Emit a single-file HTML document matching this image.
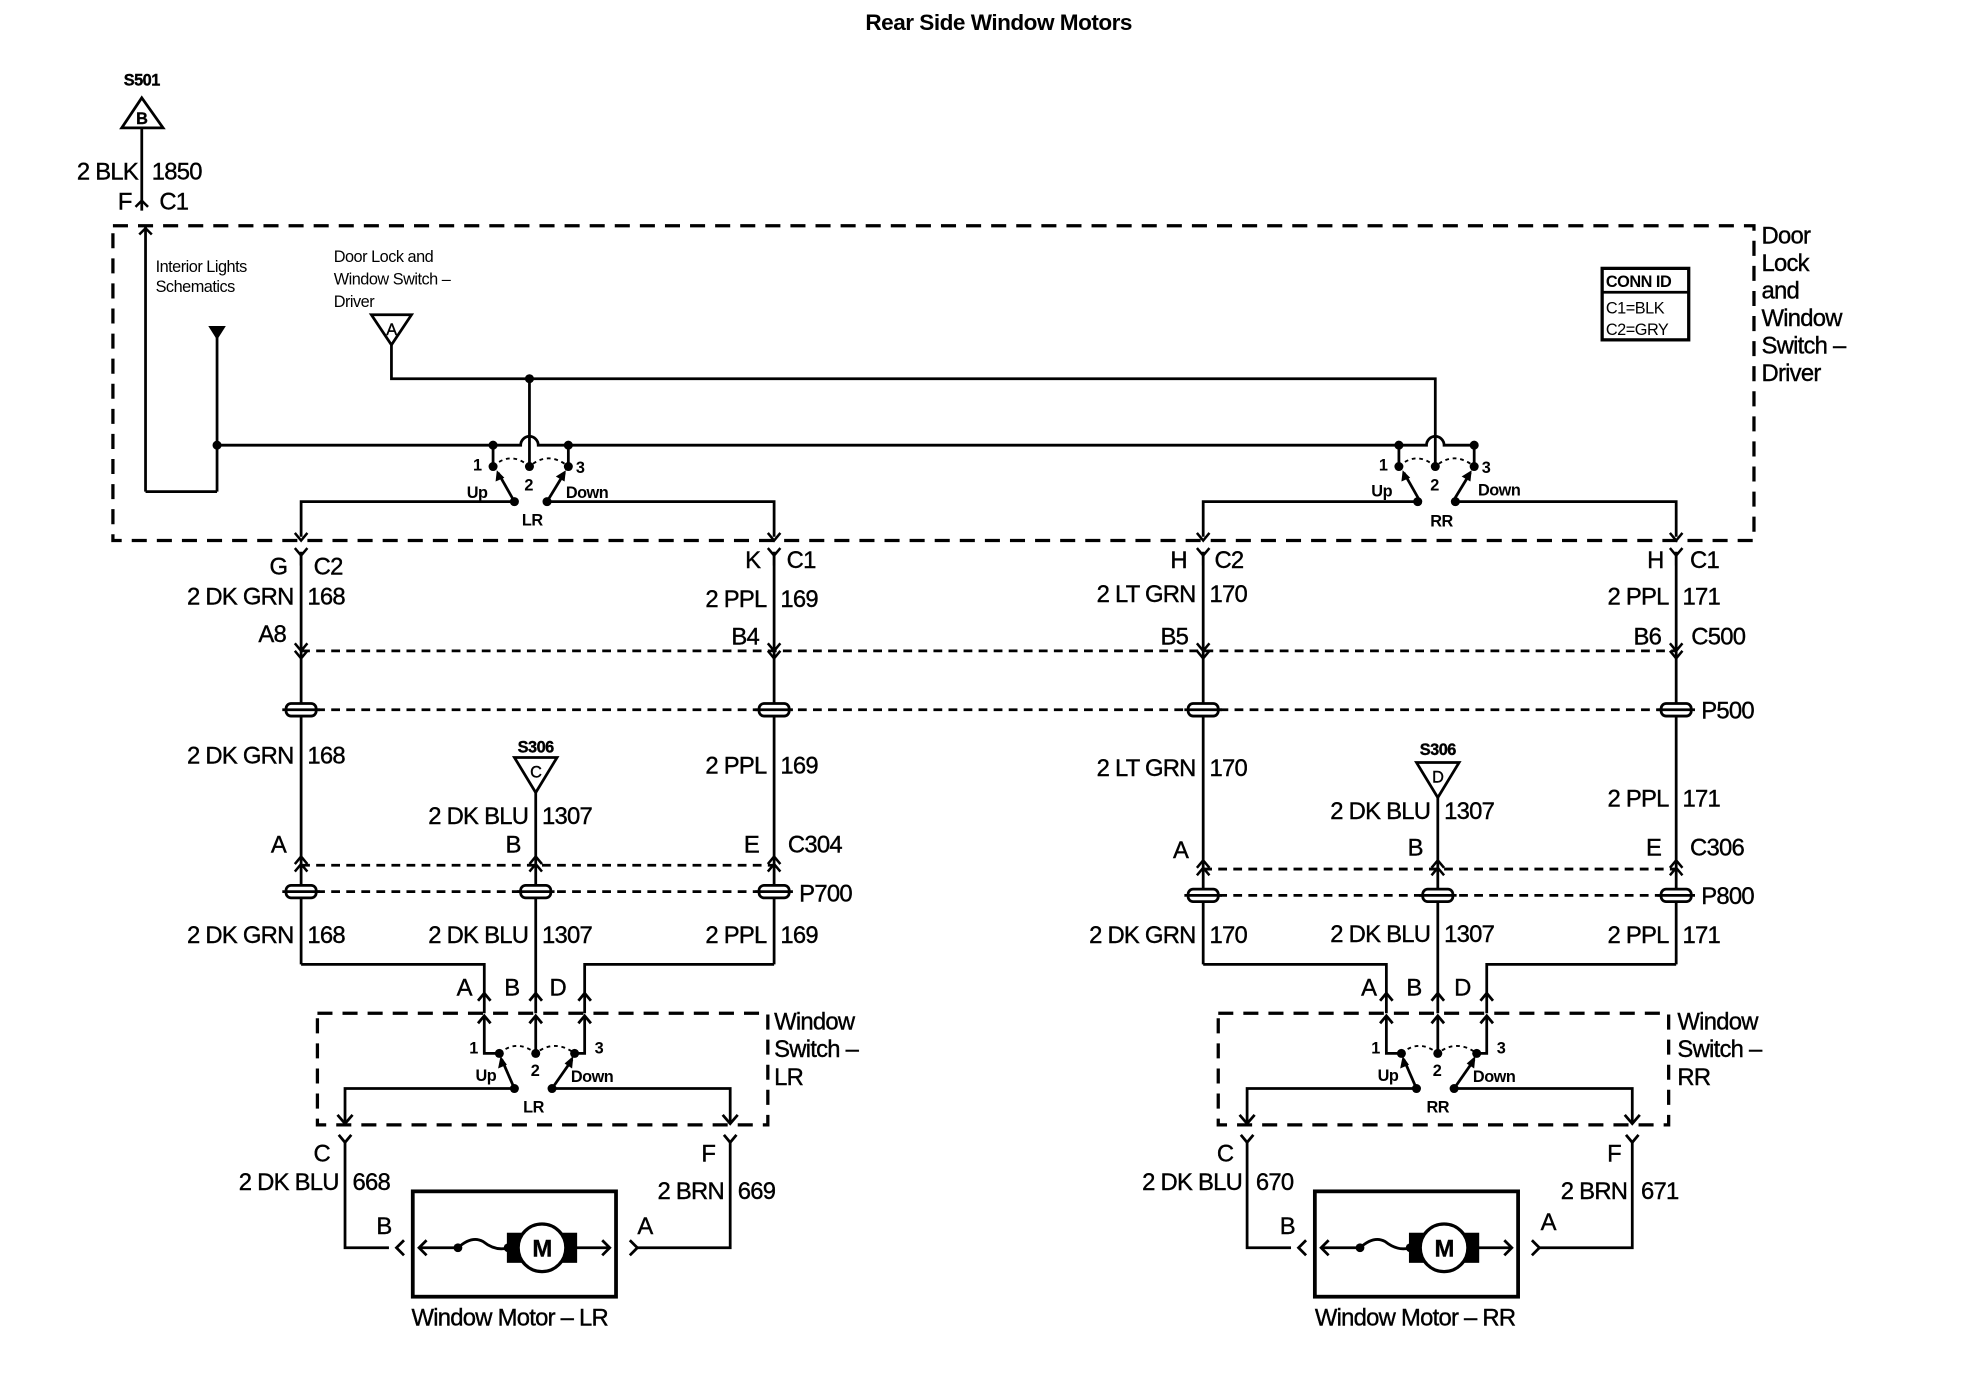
<!DOCTYPE html>
<html><head><meta charset="utf-8">
<style>
html,body{margin:0;padding:0;background:#fff;}
svg{display:block;}
text{font-family:"Liberation Sans",Arial,sans-serif;fill:#000;}
.b{font-size:19px;letter-spacing:-0.6px;stroke:#000;stroke-width:0.3px;}
.s{font-size:13px;letter-spacing:-0.4px;}
.t{font-size:15px;font-weight:bold;letter-spacing:-0.4px;}
</style></head>
<body>
<svg width="1966" height="1392" viewBox="0 0 1567 1110" preserveAspectRatio="none" xmlns="http://www.w3.org/2000/svg">
<defs>
  <g id="ydn"><polyline points="-5,-5 0,1 5,-5" fill="none" stroke="#000" stroke-width="2"/></g>
  <g id="yup"><polyline points="-5,5 0,-1 5,5" fill="none" stroke="#000" stroke-width="2"/></g>
  <g id="fork"><polyline points="-5,-6 0,0 5,-6" fill="none" stroke="#000" stroke-width="2"/><line x1="0" y1="0" x2="0" y2="8" stroke="#000" stroke-width="2"/></g>
  <g id="pack"><rect x="-12" y="-5" width="24" height="10" rx="4" fill="#fff" stroke="#000" stroke-width="2.2"/><path d="M-15,0 L15,0" stroke="#000" stroke-width="2.2" fill="none"/></g>
  <g id="tsw" stroke="#000" stroke-width="2.2" fill="none">
    <line x1="-29" y1="0" x2="-29" y2="17"/>
    <line x1="31" y1="0" x2="31" y2="17"/>
    <path d="M-29,17 Q-15,4 0,17 Q15,4 31,17" stroke-dasharray="3,3" stroke-width="1.5"/>
    <line x1="-12" y1="45" x2="-25" y2="22"/>
    <line x1="14" y1="45" x2="28" y2="22"/>
    <polygon points="-26,20 -27,29 -20,26" fill="#000" stroke="none"/>
    <polygon points="29,20 21,25 28,29" fill="#000" stroke="none"/>
  </g>
</defs>

<text x="796" y="24" class="t" text-anchor="middle" style="font-size:18px">Rear Side Window Motors</text>

<g stroke="#000" stroke-width="2.2" fill="none">
  <rect x="90" y="180" width="1308" height="251" stroke-dasharray="12,8" stroke-width="2.6"/>
  <polygon points="113,78 97,102 130,102"/>
  <line x1="113" y1="102" x2="113" y2="168"/>
  <line x1="116" y1="180" x2="116" y2="392"/>
  <line x1="116" y1="392" x2="173" y2="392"/>
  <line x1="173" y1="392" x2="173" y2="265"/>
  <path d="M173,355 L415,355 A7,7 0 0 1 429,355 L1137,355 A7,7 0 0 1 1151,355 L1174,355"/>
  <polygon points="296,251 328,251 312,275"/>
  <path d="M312,275 L312,302 L1144,302 L1144,372"/>
  <line x1="422" y1="302" x2="422" y2="372"/>
  <path d="M410,400 L240,400 L240,428"/>
  <path d="M436,400 L617,400 L617,428"/>
  <path d="M1130,400 L959,400 L959,428"/>
  <path d="M1160,400 L1336,400 L1336,428"/>
  <rect x="1277" y="214" width="69" height="57" stroke-width="2.6"/>
  <line x1="1277" y1="233" x2="1346" y2="233"/>
  <line x1="240" y1="440" x2="240" y2="769"/>
  <line x1="617" y1="440" x2="617" y2="769"/>
  <line x1="959" y1="440" x2="959" y2="769"/>
  <line x1="1336" y1="440" x2="1336" y2="769"/>
  <line x1="427" y1="632" x2="427" y2="808"/>
  <line x1="1146" y1="636" x2="1146" y2="808"/>
  <polygon points="410,604 444,604 427,632"/>
  <polygon points="1129,608 1163,608 1146,636"/>
  <line x1="240" y1="519" x2="1336" y2="519" stroke-dasharray="7,5"/>
  <line x1="240" y1="566" x2="1336" y2="566" stroke-dasharray="7,5"/>
  <line x1="240" y1="690" x2="617" y2="690" stroke-dasharray="7,5"/>
  <line x1="240" y1="711" x2="617" y2="711" stroke-dasharray="7,5"/>
  <line x1="959" y1="693" x2="1336" y2="693" stroke-dasharray="7,5"/>
  <line x1="959" y1="714" x2="1336" y2="714" stroke-dasharray="7,5"/>
  <path d="M240,769 L386,769 L386,808"/>
  <path d="M617,769 L466,769 L466,808"/>
  <path d="M959,769 L1105,769 L1105,808"/>
  <path d="M1336,769 L1185,769 L1185,808"/>
  <rect x="253" y="808" width="359" height="89" stroke-dasharray="12,8" stroke-width="2.6"/>
  <rect x="971" y="808" width="359" height="89" stroke-dasharray="12,8" stroke-width="2.6"/>
</g>

<g id="lsw" stroke="#000" stroke-width="2.2" fill="none">
  <path d="M386,810 L386,840 L398,840"/>
  <line x1="427" y1="810" x2="427" y2="840"/>
  <path d="M466,810 L466,840 L458,840"/>
  <polyline points="381,816 386,810 391,816"/>
  <polyline points="422,816 427,810 432,816"/>
  <polyline points="461,816 466,810 471,816"/>
  <polyline points="381,798 386,792 391,798"/>
  <polyline points="422,798 427,792 432,798"/>
  <polyline points="461,798 466,792 471,798"/>
  <path d="M398,840 Q412,828 427,840 Q442,828 458,840" stroke-dasharray="3,3" stroke-width="1.5"/>
  <line x1="410" y1="868" x2="400" y2="845"/>
  <line x1="440" y1="868" x2="456" y2="845"/>
  <polygon points="399,842 397,852 404,849" fill="#000" stroke="none"/>
  <polygon points="457,842 450,848 456,852" fill="#000" stroke="none"/>
  <path d="M410,868 L275,868 L275,895"/>
  <path d="M440,868 L582,868 L582,895"/>
  <polyline points="269,889 275,896 281,889"/>
  <polyline points="576,889 582,896 588,889"/>
  <circle cx="398" cy="840" r="3.6" fill="#000" stroke="none"/>
  <circle cx="427" cy="840" r="3.6" fill="#000" stroke="none"/>
  <circle cx="458" cy="840" r="3.6" fill="#000" stroke="none"/>
  <circle cx="410" cy="868" r="3.6" fill="#000" stroke="none"/>
  <circle cx="440" cy="868" r="3.6" fill="#000" stroke="none"/>
  <polyline points="270,905 275,911 280,905"/>
  <path d="M275,911 L275,995 L310,995"/>
  <polyline points="577,905 582,911 587,905"/>
  <path d="M582,911 L582,995 L508,995"/>
  <polyline points="322,989 316,995 322,1001"/>
  <polyline points="502,989 508,995 502,1001"/>
  <rect x="329" y="950" width="162" height="84" stroke-width="3"/>
  <path d="M334,995 L365,995 Q376,985 385,990 Q395,998 405,995 L412,995"/>
  <polyline points="340,989 334,995 340,1001"/>
  <line x1="457" y1="995" x2="486" y2="995"/>
  <polyline points="480,989 486,995 480,1001"/>
  <circle cx="365" cy="995" r="3.5" fill="#000" stroke="none"/>
  <circle cx="405" cy="995" r="3.5" fill="#000" stroke="none"/>
  <rect x="404" y="983" width="56" height="24" fill="#000" stroke="none"/>
  <circle cx="432" cy="995" r="19" fill="#fff" stroke-width="2.6"/>
</g>
<text x="432" y="1002" class="b" text-anchor="middle" font-weight="bold">M</text>
<use href="#lsw" transform="translate(719,0)"/>
<text x="1151" y="1002" class="b" text-anchor="middle" font-weight="bold">M</text>

<use href="#tsw" transform="translate(422,355)"/>
<use href="#tsw" transform="translate(1144,355)"/>
<g fill="#000">
  <circle cx="173" cy="355" r="3.6"/><circle cx="422" cy="302" r="3.6"/>
  <circle cx="393" cy="355" r="3.6"/><circle cx="453" cy="355" r="3.6"/>
  <circle cx="393" cy="372" r="3.6"/><circle cx="422" cy="372" r="3.6"/><circle cx="453" cy="372" r="3.6"/>
  <circle cx="410" cy="400" r="3.6"/><circle cx="436" cy="400" r="3.6"/>
  <circle cx="1115" cy="355" r="3.6"/><circle cx="1175" cy="355" r="3.6"/>
  <circle cx="1115" cy="372" r="3.6"/><circle cx="1144" cy="372" r="3.6"/><circle cx="1175" cy="372" r="3.6"/>
  <circle cx="1130" cy="400" r="3.6"/><circle cx="1160" cy="400" r="3.6"/>
  <polygon points="166,260 180,260 173,271"/>
</g>

<g stroke="#000" stroke-width="2" fill="none">
  <polyline points="108,165 113,160 118,165"/>
  <polyline points="111,187 116,182 121,187"/>
</g>
<g>
  <use href="#ydn" transform="translate(240,430)"/><use href="#fork" transform="translate(240,443)"/>
  <use href="#ydn" transform="translate(617,430)"/><use href="#fork" transform="translate(617,443)"/>
  <use href="#ydn" transform="translate(959,430)"/><use href="#fork" transform="translate(959,443)"/>
  <use href="#ydn" transform="translate(1336,430)"/><use href="#fork" transform="translate(1336,443)"/>
  <use href="#ydn" transform="translate(240,518)"/><use href="#ydn" transform="translate(240,524)"/>
  <use href="#ydn" transform="translate(617,518)"/><use href="#ydn" transform="translate(617,524)"/>
  <use href="#ydn" transform="translate(959,518)"/><use href="#ydn" transform="translate(959,524)"/>
  <use href="#ydn" transform="translate(1336,518)"/><use href="#ydn" transform="translate(1336,524)"/>
  <use href="#pack" transform="translate(240,566)"/><use href="#pack" transform="translate(617,566)"/>
  <use href="#pack" transform="translate(959,566)"/><use href="#pack" transform="translate(1336,566)"/>
  <use href="#yup" transform="translate(240,684)"/><use href="#yup" transform="translate(240,690)"/>
  <use href="#yup" transform="translate(427,684)"/><use href="#yup" transform="translate(427,690)"/>
  <use href="#yup" transform="translate(617,684)"/><use href="#yup" transform="translate(617,690)"/>
  <use href="#yup" transform="translate(959,687)"/><use href="#yup" transform="translate(959,693)"/>
  <use href="#yup" transform="translate(1146,687)"/><use href="#yup" transform="translate(1146,693)"/>
  <use href="#yup" transform="translate(1336,687)"/><use href="#yup" transform="translate(1336,693)"/>
  <use href="#pack" transform="translate(240,711)"/><use href="#pack" transform="translate(427,711)"/><use href="#pack" transform="translate(617,711)"/>
  <use href="#pack" transform="translate(959,714)"/><use href="#pack" transform="translate(1146,714)"/><use href="#pack" transform="translate(1336,714)"/>
</g>

<g class="b">
  <text x="113" y="68" class="s" text-anchor="middle" font-weight="bold">S501</text>
  <text x="113" y="99" class="s" text-anchor="middle" font-weight="bold">B</text>
  <text x="312" y="267" class="s" text-anchor="middle">A</text>
  <text x="427" y="600" class="s" text-anchor="middle" font-weight="bold">S306</text>
  <text x="427" y="620" class="s" text-anchor="middle">C</text>
  <text x="1146" y="602" class="s" text-anchor="middle" font-weight="bold">S306</text>
  <text x="1146" y="624" class="s" text-anchor="middle">D</text>

  <text x="110" y="143" text-anchor="end">2 BLK</text><text x="121" y="143">1850</text>
  <text x="105" y="167" text-anchor="end">F</text><text x="127" y="167">C1</text>

  <text x="229" y="458" text-anchor="end">G</text><text x="250" y="458">C2</text>
  <text x="606" y="453" text-anchor="end">K</text><text x="627" y="453">C1</text>
  <text x="946" y="453" text-anchor="end">H</text><text x="968" y="453">C2</text>
  <text x="1326" y="453" text-anchor="end">H</text><text x="1347" y="453">C1</text>

  <text x="234" y="482" text-anchor="end">2 DK GRN</text><text x="245" y="482">168</text>
  <text x="611" y="484" text-anchor="end">2 PPL</text><text x="622" y="484">169</text>
  <text x="953" y="480" text-anchor="end">2 LT GRN</text><text x="964" y="480">170</text>
  <text x="1330" y="482" text-anchor="end">2 PPL</text><text x="1341" y="482">171</text>

  <text x="228" y="512" text-anchor="end">A8</text>
  <text x="605" y="514" text-anchor="end">B4</text>
  <text x="947" y="514" text-anchor="end">B5</text>
  <text x="1324" y="514" text-anchor="end">B6</text><text x="1348" y="514">C500</text>
  <text x="1356" y="573">P500</text>

  <text x="234" y="609" text-anchor="end">2 DK GRN</text><text x="245" y="609">168</text>
  <text x="611" y="617" text-anchor="end">2 PPL</text><text x="622" y="617">169</text>
  <text x="953" y="619" text-anchor="end">2 LT GRN</text><text x="964" y="619">170</text>
  <text x="1330" y="643" text-anchor="end">2 PPL</text><text x="1341" y="643">171</text>
  <text x="421" y="657" text-anchor="end">2 DK BLU</text><text x="432" y="657">1307</text>
  <text x="1140" y="653" text-anchor="end">2 DK BLU</text><text x="1151" y="653">1307</text>

  <text x="228" y="680" text-anchor="end">A</text>
  <text x="415" y="680" text-anchor="end">B</text>
  <text x="605" y="680" text-anchor="end">E</text><text x="628" y="680">C304</text>
  <text x="947" y="684" text-anchor="end">A</text>
  <text x="1134" y="682" text-anchor="end">B</text>
  <text x="1324" y="682" text-anchor="end">E</text><text x="1347" y="682">C306</text>
  <text x="637" y="719">P700</text>
  <text x="1356" y="721">P800</text>

  <text x="234" y="752" text-anchor="end">2 DK GRN</text><text x="245" y="752">168</text>
  <text x="421" y="752" text-anchor="end">2 DK BLU</text><text x="432" y="752">1307</text>
  <text x="611" y="752" text-anchor="end">2 PPL</text><text x="622" y="752">169</text>
  <text x="953" y="752" text-anchor="end">2 DK GRN</text><text x="964" y="752">170</text>
  <text x="1140" y="751" text-anchor="end">2 DK BLU</text><text x="1151" y="751">1307</text>
  <text x="1330" y="752" text-anchor="end">2 PPL</text><text x="1341" y="752">171</text>

  <text x="376" y="794" text-anchor="end">A</text><text x="408" y="794" text-anchor="middle">B</text><text x="438" y="794">D</text>
  <text x="1097" y="794" text-anchor="end">A</text><text x="1127" y="794" text-anchor="middle">B</text><text x="1159" y="794">D</text>

  <text x="617" y="821">Window</text><text x="617" y="843">Switch –</text><text x="617" y="865">LR</text>
  <text x="1337" y="821">Window</text><text x="1337" y="843">Switch –</text><text x="1337" y="865">RR</text>

  <text x="263" y="926" text-anchor="end">C</text>
  <text x="570" y="926" text-anchor="end">F</text>
  <text x="983" y="926" text-anchor="end">C</text>
  <text x="1292" y="926" text-anchor="end">F</text>
  <text x="270" y="949" text-anchor="end">2 DK BLU</text><text x="281" y="949">668</text>
  <text x="577" y="956" text-anchor="end">2 BRN</text><text x="588" y="956">669</text>
  <text x="990" y="949" text-anchor="end">2 DK BLU</text><text x="1001" y="949">670</text>
  <text x="1297" y="956" text-anchor="end">2 BRN</text><text x="1308" y="956">671</text>
  <text x="300" y="984">B</text><text x="508" y="984">A</text>
  <text x="1020" y="984">B</text><text x="1228" y="981">A</text>

  <text x="328" y="1057">Window Motor – LR</text>
  <text x="1048" y="1057">Window Motor – RR</text>

  <text x="1404" y="194">Door</text><text x="1404" y="216">Lock</text><text x="1404" y="238">and</text>
  <text x="1404" y="260">Window</text><text x="1404" y="282">Switch –</text><text x="1404" y="304">Driver</text>
</g>
<g class="s">
  <text x="124" y="217">Interior Lights</text><text x="124" y="233">Schematics</text>
  <text x="266" y="209">Door Lock and</text><text x="266" y="227">Window Switch –</text><text x="266" y="245">Driver</text>
  <text x="1280" y="229" font-weight="bold">CONN ID</text>
  <text x="1280" y="250">C1=BLK</text><text x="1280" y="267">C2=GRY</text>
  <g font-weight="bold">
    <text x="377" y="375">1</text><text x="418" y="391">2</text><text x="459" y="377">3</text>
    <text x="372" y="397">Up</text><text x="451" y="397">Down</text><text x="416" y="419">LR</text>
    <text x="1099" y="375">1</text><text x="1140" y="391">2</text><text x="1181" y="377">3</text>
    <text x="1093" y="396">Up</text><text x="1178" y="395">Down</text><text x="1140" y="420">RR</text>
    <text x="374" y="840">1</text><text x="423" y="858">2</text><text x="474" y="840">3</text>
    <text x="379" y="862">Up</text><text x="455" y="863">Down</text><text x="417" y="887">LR</text>
    <text x="1093" y="840">1</text><text x="1142" y="858">2</text><text x="1193" y="840">3</text>
    <text x="1098" y="862">Up</text><text x="1174" y="863">Down</text><text x="1137" y="887">RR</text>
  </g>
</g>
</svg>
</body></html>
